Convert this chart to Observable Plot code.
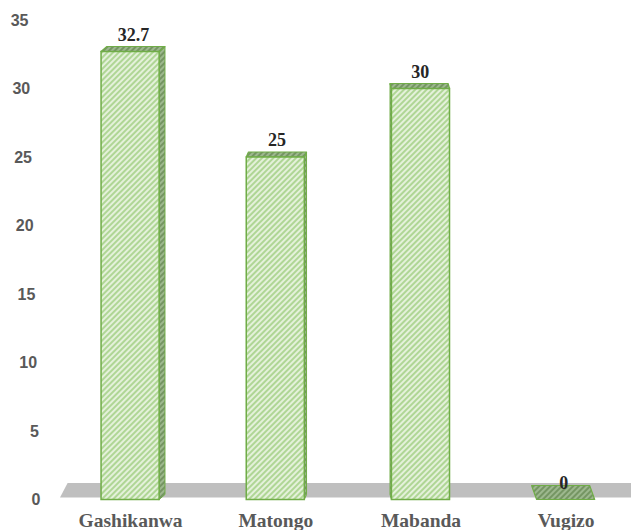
<!DOCTYPE html>
<html>
<head>
<meta charset="utf-8">
<script src="https://cdn.jsdelivr.net/npm/d3@7"></script>
<script src="https://cdn.jsdelivr.net/npm/@observablehq/plot@0.6"></script>
<style>
  html, body { margin: 0; padding: 0; background: #ffffff; }
  #chart { width: 631px; height: 530px; overflow: hidden; }
</style>
</head>
<body>
<div id="chart"></div>
<script>
// ---- data ----
const categories = ["Gashikanwa", "Matongo", "Mabanda", "Vugizo"];
const values = [32.7, 25, 30, 0];
const valueLabels = ["32.7", "25", "30", "0"];
const yTicks = [0, 5, 10, 15, 20, 25, 30, 35];

// ---- layout constants ----
const W = 631, H = 530;
const mL = 57.5, mR = 0, mT = 20, mB = 30.5;
const xDom = [-0.5, 3.45], yDom = [0, 35];
const PX = (W - mL - mR) / (xDom[1] - xDom[0]);   // px per x unit
const PY = (H - mT - mB) / (yDom[1] - yDom[0]);   // px per y unit
const pxToX = p => xDom[0] + (p - mL) / PX;
const halfW = 0.2;                                 // half bar width (x units)

// simple perspective: vanishing point, depth shift
const vp = 364, k = 0.025;
const depthX = cxPx => k * (vp - cxPx) / PX;                       // x units
const depthY = v => (5 + 9 * Math.max(0, 1 - v / 5)) / PY;           // y units

const bars = categories.map((c, i) => {
  const v = values[i];
  const cxPx = mL + (i - xDom[0]) * PX;
  return {c, i, v, label: valueLabels[i], xl: i - halfW, xr: i + halfW,
          dx: depthX(cxPx), e: depthY(v)};
});

// side faces (only where visible)
const sidePts = bars.filter(b => b.v > 0 && Math.abs(b.dx * PX) >= 1).flatMap(b => {
  const edge = b.dx > 0 ? b.xr : b.xl;
  return [
    {id: b.c, x: edge, y1: 0, y2: b.v},
    {id: b.c, x: edge + b.dx, y1: b.e, y2: b.v + b.e}
  ];
});
// top faces
const topPts = bars.flatMap(b => [
  {id: b.c, y: b.v, x1: b.xl, x2: b.xr},
  {id: b.c, y: b.v + b.e, x1: b.xl + b.dx, x2: b.xr + b.dx}
]);
// floor
const floorLeftBottom = pxToX(60);
const floorPts = [
  {y: 0.15, x1: floorLeftBottom, x2: 3.7},
  {y: 1.2, x1: floorLeftBottom + depthX(60), x2: 3.7}
];

const serif = "'Liberation Serif', 'Times New Roman', serif";
const sans = "'Liberation Sans', Arial, sans-serif";

const svg = Plot.plot({
  width: W, height: H,
  marginLeft: mL, marginRight: mR, marginTop: mT, marginBottom: mB,
  x: {domain: xDom, axis: null},
  y: {domain: yDom, axis: null},
  style: {background: "#ffffff", overflow: "visible"},
  marks: [
    Plot.areaX(floorPts, {y: "y", x1: "x1", x2: "x2", fill: "#bfbfbf"}),
    Plot.areaY(sidePts, {x: "x", y1: "y1", y2: "y2", z: "id",
      fill: "url(#hatchDark)", stroke: "#70ad47", strokeWidth: 1}),
    Plot.areaX(topPts, {y: "y", x1: "x1", x2: "x2", z: "id",
      fill: "url(#hatchDark)", stroke: "#70ad47", strokeWidth: 1.2}),
    Plot.rect(bars, {x1: "xl", x2: "xr", y1: 0, y2: "v",
      fill: "url(#hatchFront)", stroke: "#70ad47", strokeWidth: 1.5}),
    Plot.text(bars, {x: d => d.i + d.dx / 2, y: "v", text: "label", dy: -17,
      fontSize: 18, fontWeight: "bold", fontFamily: serif, fill: "#262626"}),
    Plot.text(bars, {x: "i", y: 0, text: "c", dy: 13.5, lineAnchor: "top",
      fontSize: 19.5, fontWeight: "bold", fontFamily: serif, fill: "#595959"}),
    Plot.text(yTicks, {x: t => pxToX(40 - 12 * t / 35), y: t => t, text: t => String(t),
      textAnchor: "end", fontSize: 16, fontWeight: "bold", fontFamily: sans, fill: "#595959"})
  ]
});

svg.insertAdjacentHTML("afterbegin", `
<defs>
  <pattern id="hatchFront" patternUnits="userSpaceOnUse" width="4" height="4" patternTransform="rotate(45)">
    <rect width="4" height="4" fill="#e4f1da"></rect>
    <line x1="1" y1="0" x2="1" y2="4" stroke="#a2d084" stroke-width="1.6"></line>
  </pattern>
  <pattern id="hatchDark" patternUnits="userSpaceOnUse" width="4" height="4" patternTransform="rotate(45)">
    <rect width="4" height="4" fill="#9db88e"></rect>
    <line x1="1" y1="0" x2="1" y2="4" stroke="#6b8c58" stroke-width="1.6"></line>
  </pattern>
</defs>`);

document.getElementById("chart").appendChild(svg);
</script>
</body>
</html>
